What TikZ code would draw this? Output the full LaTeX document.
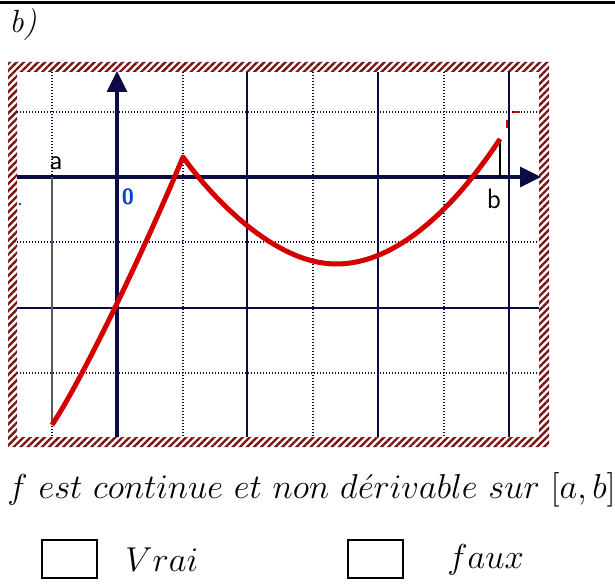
\documentclass[tikz,border=0pt]{standalone}
\usetikzlibrary{patterns.meta,arrows.meta}
\definecolor{navy}{HTML}{0B0B45}
\definecolor{hatch}{HTML}{7A1616}
\definecolor{curvered}{HTML}{D40000}
\definecolor{zeroblue}{HTML}{1040C8}
\begin{document}
\begin{tikzpicture}[x=0.5pt,y=-0.5pt,
  every node/.style={inner sep=0pt},
  gridsolid/.style={navy, line width=0.8pt},
  griddot/.style={navy, line width=0.8pt, dash pattern=on 0.5pt off 1pt},
  axis/.style={navy, line width=1.6pt, -{Triangle[length=10.5pt,width=10pt]}},
  endlabel/.style={font=\sffamily\fontsize{14}{14}\selectfont},
  tickbox/.style={draw, line width=0.8pt, minimum width=27.5pt, minimum height=19pt},
  answer/.style={font=\fontsize{16}{20}\selectfont, anchor=west}
]
\useasboundingbox (0,0) rectangle (615,588);
\draw[line width=1.5pt] (0,3) -- (615,3);
\node[font=\itshape\fontsize{16}{18}\selectfont, anchor=west] (part) at (9,25) {b)};

\fill[pattern={Lines[angle=45,distance=2.5pt,line width=1.2pt]}, pattern color=hatch, even odd rule]
  (8,62) rectangle (549,447) (17,72) rectangle (539,437);

\foreach \x in {52,183,313,444} \draw[griddot] (\x,72) -- (\x,437);
\foreach \x in {247,378,509} \draw[gridsolid] (\x,72) -- (\x,437);
\foreach \y in {112,242,373} \draw[griddot] (17,\y) -- (539,\y);
\foreach \y in {308} \draw[gridsolid] (17,\y) -- (539,\y);

\coordinate (O) at (117,177);
\coordinate (xstart) at (17,177);
\coordinate (xend) at (541,177);
\coordinate (ystart) at (117,437);
\coordinate (yend) at (117,71);
\coordinate (pa) at (52,425);
\coordinate (peak) at (183,157);
\coordinate (low) at (336,264);
\coordinate (pb) at (500,139);

\draw[axis] (xstart) -- (xend);
\draw[axis] (ystart) -- (yend);
\draw[gray!70!black, line width=0.8pt] (pa |- O) -- (pa);
\draw[black, line width=0.8pt] (pb) -- (pb |- O);

\draw[curvered, line width=2.5pt, line join=round]
  (pa) .. controls (88,370) and (152,232) .. (peak)
  .. controls (212,198) and (275,264) .. (low)
  .. controls (405,264) and (465,192) .. (pb);

\draw[curvered, line width=1pt] (513,112) -- (520,112);
\draw[curvered, line width=1pt] (507,120) -- (507,128);
\draw[zeroblue, line width=0.8pt] (19,204) -- (21,204);

\node[endlabel] (la) at (56,163) {a};
\node[endlabel] (lb) at (494,199) {b};
\node[font=\sffamily\bfseries\fontsize{11}{11}\selectfont, text=zeroblue] (zero) at (128,197) {0};

\node[answer, font=\fontsize{18}{20}\selectfont] (claim) at (7,490) {$f\ est\ continue\ et\ non\ d\acute{e}rivable\ sur\ [a,b]$};
\node[tickbox] (box1) at (69.5,559) {};
\node[answer] (vrai) at (125,560) {$Vrai$};
\node[tickbox] (box2) at (375.5,559) {};
\node[answer] (faux) at (447,560) {$faux$};
\end{tikzpicture}
\end{document}
